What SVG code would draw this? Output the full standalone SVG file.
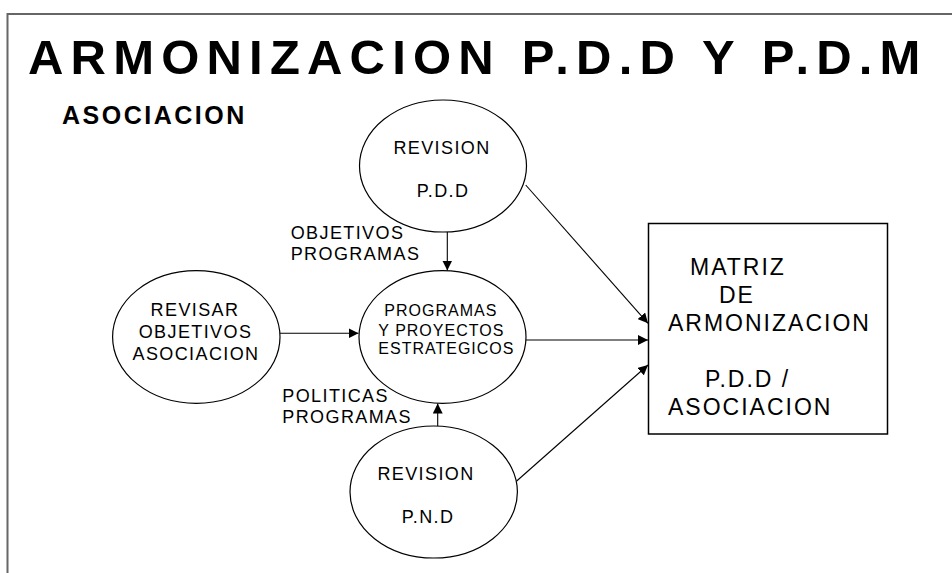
<svg xmlns="http://www.w3.org/2000/svg" width="952" height="573" viewBox="0 0 952 573">
<defs>
<style>
.frame{stroke:#666;stroke-width:2;fill:none}
.node{fill:#fff;stroke:#000;stroke-width:1.2}
.t{font-family:"Liberation Sans",Arial,sans-serif;fill:#000}
.lbl{font-size:18px;letter-spacing:1.4px}
.sm{font-size:16px;letter-spacing:1px}
.box{font-size:23px;letter-spacing:2px}
.conn line{stroke:#000;stroke-width:1.1;fill:none;marker-end:url(#ah)}
</style>
<marker id="ah" markerUnits="userSpaceOnUse" markerWidth="11" markerHeight="10" refX="10" refY="5" orient="auto">
<path d="M0,0 L10,5 L0,10 z" fill="#000"/>
</marker>
</defs>
<rect width="952" height="573" fill="#fff"/>
<path class="frame" d="M7.5,573 L7.5,14 L952,14"/>
<text class="t" x="28" y="74" font-size="49" font-weight="bold" letter-spacing="7.2">ARMONIZACION P.D.D Y P.D.M</text>
<text class="t" x="62" y="124" font-size="25" font-weight="bold" letter-spacing="2.5">ASOCIACION</text>
<g class="conn" id="connectors">
<line x1="447.3" y1="232" x2="447.3" y2="270.5"/>
<line x1="280" y1="333.3" x2="358.5" y2="333.3"/>
<line x1="437.7" y1="426" x2="437.7" y2="403.5"/>
<line x1="526" y1="340" x2="648" y2="340"/>
<line x1="525.7" y1="185" x2="648" y2="323.3"/>
<line x1="516.7" y1="481" x2="648" y2="365"/>
</g>
<g id="revision-pdd">
<ellipse class="node" cx="443" cy="166" rx="83.5" ry="66"/>
<text class="t lbl" x="442" y="154" text-anchor="middle">REVISION</text>
<text class="t lbl" x="443" y="197.3" text-anchor="middle">P.D.D</text>
</g>
<g id="label-objetivos">
<text class="t lbl" x="290.7" y="239.3">OBJETIVOS</text>
<text class="t lbl" x="290.7" y="260">PROGRAMAS</text>
</g>
<g id="revisar-objetivos">
<ellipse class="node" cx="196.3" cy="337" rx="83.7" ry="66.3"/>
<text class="t lbl" x="195" y="316" text-anchor="middle">REVISAR</text>
<text class="t lbl" x="195.5" y="337.7" text-anchor="middle">OBJETIVOS</text>
<text class="t lbl" x="196" y="360" text-anchor="middle">ASOCIACION</text>
</g>
<g id="programas-proyectos">
<ellipse class="node" cx="442.5" cy="337" rx="83.5" ry="66.3"/>
<text class="t sm" x="384.3" y="315.7">PROGRAMAS</text>
<text class="t sm" x="378.3" y="335.7">Y PROYECTOS</text>
<text class="t sm" x="378.3" y="354">ESTRATEGICOS</text>
</g>
<g id="label-politicas">
<text class="t lbl" x="282.3" y="402.3">POLITICAS</text>
<text class="t lbl" x="282.3" y="423.3">PROGRAMAS</text>
</g>
<g id="revision-pnd">
<ellipse class="node" cx="433.7" cy="492" rx="83.7" ry="66"/>
<text class="t lbl" x="426" y="480" text-anchor="middle">REVISION</text>
<text class="t lbl" x="428" y="522.7" text-anchor="middle">P.N.D</text>
</g>
<g id="matriz">
<rect x="648.5" y="223.5" width="239" height="210.5" fill="#fff" stroke="#000" stroke-width="1.5"/>
<text class="t box" x="690" y="275">MATRIZ</text>
<text class="t box" x="719" y="303">DE</text>
<text class="t box" x="668" y="331">ARMONIZACION</text>
<text class="t box" x="705" y="387">P.D.D /</text>
<text class="t box" x="668" y="415">ASOCIACION</text>
</g>
</svg>
